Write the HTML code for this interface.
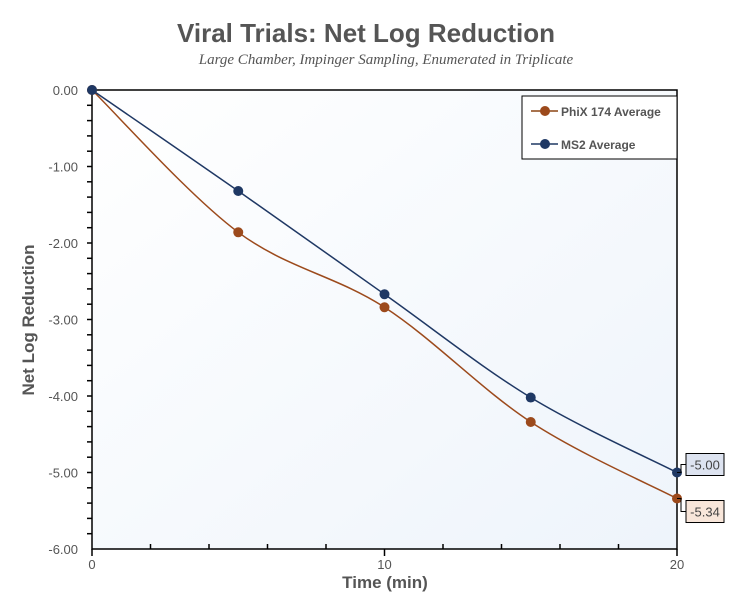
<!DOCTYPE html>
<html><head><meta charset="utf-8"><style>
body{margin:0;background:#fff;}
svg{display:block;font-family:"Liberation Sans",sans-serif;}
</style></head><body>
<svg id="chart" width="749" height="603" viewBox="0 0 749 603">
<defs>
<linearGradient id="bg" x1="0" y1="0" x2="1" y2="1"><stop offset="0" stop-color="#ffffff"/><stop offset="1" stop-color="#eef4fb"/></linearGradient>
</defs>
<rect x="0" y="0" width="749" height="603" fill="#fff"/>
<text x="366" y="42" text-anchor="middle" font-size="26" font-weight="bold" fill="#555">Viral Trials: Net Log Reduction</text>
<text x="386" y="64" text-anchor="middle" font-size="15" font-style="italic" fill="#555" font-family="Liberation Serif, serif">Large Chamber, Impinger Sampling, Enumerated in Triplicate</text>
<rect x="92" y="90" width="585" height="459" fill="url(#bg)" stroke="#000" stroke-width="1.5"/>
<g id="axes"></g>
<g id="series"></g>
<text x="385" y="588" text-anchor="middle" font-size="17" font-weight="bold" fill="#555">Time (min)</text>
<text transform="translate(34,320) rotate(-90)" text-anchor="middle" font-size="17" font-weight="bold" fill="#555">Net Log Reduction</text>
<g>
<rect x="522" y="96" width="155" height="63" fill="#fff" stroke="#000" stroke-width="1"/>
<g>
<line x1="531" y1="111" x2="558" y2="111" stroke="#8b4513" stroke-width="1.5"/>
<circle cx="545" cy="111" r="5" fill="#9c4a1c"/>
<text x="561" y="116" font-size="12" font-weight="bold" fill="#555">PhiX 174 Average</text>
</g>
<g>
<line x1="531" y1="144" x2="558" y2="144" stroke="#1f3864" stroke-width="1.5"/>
<circle cx="545" cy="144" r="5" fill="#1f3864"/>
<text x="561" y="149" font-size="12" font-weight="bold" fill="#555">MS2 Average</text>
</g>
</g>
</svg>
<script>
const times=[0,5,10,15,20];
const phix=[0,-1.86,-2.84,-4.34,-5.34];
const ms2=[0,-1.32,-2.67,-4.02,-5.00];
const yTicks=[0,-1,-2,-3,-4,-5,-6];
const xTicks=[0,10,20];
const ns="http://www.w3.org/2000/svg";
const X=v=>92+v*(585/20);
const Y=v=>90-v*(459/6);
const axes=document.getElementById('axes');
const ser=document.getElementById('series');
function mk(t,a,p){const e=document.createElementNS(ns,t);for(const k in a)e.setAttribute(k,a[k]);(p||axes).appendChild(e);return e;}
for(let v=0;v>=-6;v-=0.2){const y=Y(v);mk('line',{x1:92,x2:87,y1:y,y2:y,stroke:'#000','stroke-width':1.5});}
yTicks.forEach(v=>{const t=mk('text',{x:78,y:Y(v)+5,'text-anchor':'end','font-size':13,fill:'#555'});t.textContent=v.toFixed(2);

});
for(let v=0;v<=20;v+=2){const x=X(v);mk('line',{x1:x,x2:x,y1:549,y2:(v%10==0?556:544),stroke:'#000','stroke-width':1.5});}
xTicks.forEach(v=>{const t=mk('text',{x:X(v),y:569,'text-anchor':'middle','font-size':13,fill:'#555'});t.textContent=v;

});
function path(vals){const p=times.map((t,i)=>[X(t),Y(vals[i])]);let d='M'+p[0][0]+','+p[0][1];
for(let i=0;i<p.length-1;i++){const p0=p[i-1]||p[i],p1=p[i],p2=p[i+1],p3=p[i+2]||p2;const k=1/6;
d+=` C${p1[0]+(p2[0]-p0[0])*k},${p1[1]+(p2[1]-p0[1])*k} ${p2[0]-(p3[0]-p1[0])*k},${p2[1]-(p3[1]-p1[1])*k} ${p2[0]},${p2[1]}`;}return d;}
function draw(vals,color,name,lblFill,lblY){
const l=mk('path',{d:path(vals),fill:'none',stroke:color,'stroke-width':1.5},ser);


vals.forEach((v,i)=>{const c=mk('circle',{cx:X(times[i]),cy:Y(v),r:5,fill:color},ser);

});
const last=vals[vals.length-1],ly=Y(last)+lblY;
mk('polyline',{points:`${X(20)},${Y(last)} ${X(20)+4},${Y(last)} ${X(20)+4},${ly} 686,${ly}`,fill:'none',stroke:'#000','stroke-width':1},ser);
const r=mk('rect',{x:686,y:ly-11,width:38,height:22,fill:lblFill,stroke:'#000','stroke-width':1},ser);


const t=mk('text',{x:705,y:ly+5,'text-anchor':'middle','font-size':13,fill:'#444'},ser);t.textContent=last.toFixed(2);}
draw(phix,'#9c4a1c','phix','#f8e6da',13);
draw(ms2,'#1f3864','ms2','#dde3f0',-8);
</script>
</body></html>
